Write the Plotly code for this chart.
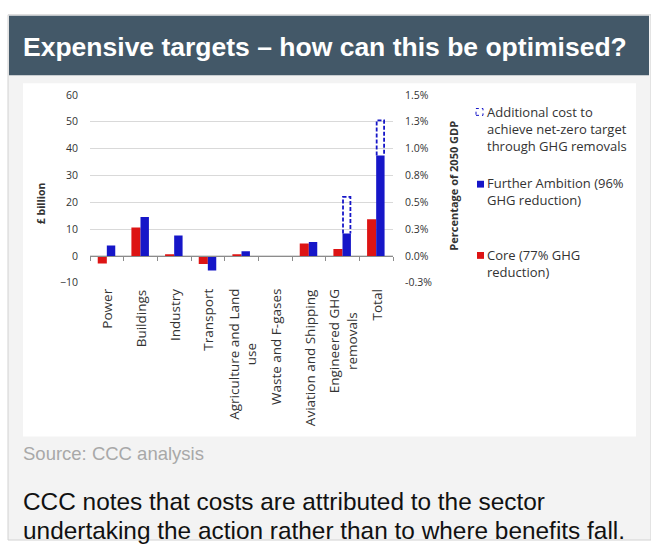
import plotly.graph_objects as go

# ---------------- data ----------------
categories = ["Power", "Buildings", "Industry", "Transport",
              "Agriculture and Land<br>use", "Waste and F-gases",
              "Aviation and Shipping", "Engineered GHG<br>removals", "Total"]
core_77 = [-2.8, 10.6, 0.3, -3.0, 0.5, 0.0, 4.6, 2.6, 13.7]
further_96 = [3.9, 14.5, 7.6, -5.4, 1.7, 0.0, 5.2, 8.4, 37.4]
net_zero_top = [None, None, None, None, None, None, None, 22.0, 50.5]

left_ticks = [-10, 0, 10, 20, 30, 40, 50, 60]
right_tickvals = [-0.25, 0.0, 0.25, 0.5, 0.75, 1.0, 1.25, 1.5]
right_ticktext = ["-0.3%", "0.0%", "0.3%", "0.5%", "0.8%", "1.0%", "1.3%", "1.5%"]
gdp_pct_per_bn = 1.5 / 60

legend_lines = [["Additional cost to", "achieve net-zero target", "through GHG removals"],
                ["Further Ambition (96%", "GHG reduction)"],
                ["Core (77% GHG", "reduction)"]]

title = "Expensive targets – how can this be optimised?"
source = "Source: CCC analysis"
body_lines = ["CCC notes that costs are attributed to the sector",
              "undertaking the action rather than to where benefits fall."]

# ---------------- styling ----------------
W, H = 651, 546
RED = "#dd1414"
BLUE = "#1616c8"
TXT = "#333333"
FONT = "Open Sans"
HFONT = "Liberation Sans, Arial"


def fx(px):
    return px / W


def fy(py):
    return 1 - py / H


y_range = [-10.2, 60.2]
zero_px = 255.0
unit_px = 2.75
y_top_px = zero_px - y_range[1] * unit_px
y_bot_px = zero_px - y_range[0] * unit_px

idx = list(range(len(categories)))

fig = go.Figure()
fig.add_trace(go.Bar(x=idx, y=core_77, offset=-0.27, width=0.27,
                     marker=dict(color=RED, line=dict(width=0)),
                     name="Core (77% GHG reduction)"))
fig.add_trace(go.Bar(x=idx, y=further_96, offset=0.0, width=0.25,
                     marker=dict(color=BLUE, line=dict(width=0)),
                     name="Further Ambition (96% GHG reduction)"))

# dashed boxes for the additional cost on top of the blue bars
for i, (b, t) in enumerate(zip(further_96, net_zero_top)):
    if t is None:
        continue
    fig.add_trace(go.Scatter(x=[i + 0.015, i + 0.015, i + 0.235, i + 0.235],
                             y=[b, t, t, b], mode="lines",
                             line=dict(color=BLUE, width=1.8, dash="4px,2px"),
                             hoverinfo="skip", showlegend=False))

# secondary (right) axis trace, invisible, to activate yaxis2
fig.add_trace(go.Scatter(x=[0], y=[0], yaxis="y2", mode="markers",
                         marker=dict(opacity=0), showlegend=False, hoverinfo="skip"))

shapes = []
shapes.append(dict(type="rect", xref="paper", yref="paper", x0=fx(8), x1=fx(651), y0=fy(546), y1=fy(8),
                    fillcolor="#f3f3f3", line=dict(color="#d2d2d2", width=1), layer="below"))
shapes.append(dict(type="rect", xref="paper", yref="paper", x0=fx(9), x1=fx(649), y0=fy(70), y1=fy(9),
                    fillcolor="#435868", line=dict(width=0), layer="below"))
shapes.append(dict(type="rect", xref="paper", yref="paper", x0=fx(23), x1=fx(636), y0=fy(440), y1=fy(78),
                    fillcolor="#ffffff", line=dict(width=0), layer="below"))
# legend symbols
shapes.append(dict(type="rect", xref="paper", yref="paper", x0=fx(476), x1=fx(483), y0=fy(111), y1=fy(104),
                    fillcolor="rgba(0,0,0,0)", line=dict(color=BLUE, width=1, dash="dot")))
shapes.append(dict(type="rect", xref="paper", yref="paper", x0=fx(477), x1=fx(484), y0=fy(185), y1=fy(178),
                    fillcolor=BLUE, line=dict(width=0)))
shapes.append(dict(type="rect", xref="paper", yref="paper", x0=fx(477), x1=fx(484), y0=fy(258), y1=fy(251),
                    fillcolor=RED, line=dict(width=0)))

annotations = []
annotations.append(dict(xref="paper", yref="paper", x=fx(22), y=fy(40.5), xanchor="left", yanchor="middle",
                        text="<b>" + title + "</b>", showarrow=False, borderpad=0,
                        font=dict(family=HFONT, size=26.5, color="#ffffff")))
annotations.append(dict(xref="paper", yref="paper", x=fx(22), y=fy(457), xanchor="left", yanchor="middle",
                        text=source, showarrow=False, borderpad=0,
                        font=dict(family=HFONT, size=18.5, color="#a8a8a8")))
for k, line in enumerate(body_lines):
    annotations.append(dict(xref="paper", yref="paper", x=fx(22), y=fy(507 + 29 * k), xanchor="left",
                            yanchor="middle", text=line, showarrow=False, borderpad=0,
                            font=dict(family=HFONT, size=24.4, color="#111111")))

# category labels (rotated)
for i, c in enumerate(categories):
    annotations.append(dict(xref="x", yref="paper", x=i + 0.02, y=fy(288), xanchor="center", yanchor="top",
                            text=c, textangle=-90, align="center", showarrow=False, borderpad=0,
                            font=dict(family=FONT, size=13.5, color=TXT)))

# axis titles
annotations.append(dict(xref="paper", yref="paper", x=fx(41), y=fy(201), xanchor="center", yanchor="middle",
                        text="<b>£ billion</b>", textangle=-90, showarrow=False, borderpad=0,
                        font=dict(family=FONT, size=10.5, color=TXT)))
annotations.append(dict(xref="paper", yref="paper", x=fx(454), y=fy(183), xanchor="center", yanchor="middle",
                        text="<b>Percentage of 2050 GDP</b>", textangle=-90, showarrow=False, borderpad=0,
                        font=dict(family=FONT, size=11, color=TXT)))

# legend texts (one block per entry)
LEG_SIZE = 13
line_h = 1.3 * LEG_SIZE
legend_first = [108, 181, 254]
for lines, y0 in zip(legend_lines, legend_first):
    center = y0 + (len(lines) - 1) * line_h / 2
    annotations.append(dict(xref="paper", yref="paper", x=fx(486), y=fy(center), xanchor="left",
                            yanchor="middle", text="<br>".join(lines), align="left",
                            showarrow=False, borderpad=0,
                            font=dict(family=FONT, size=LEG_SIZE, color=TXT)))

fig.update_layout(
    width=W, height=H,
    margin=dict(l=0, r=0, t=0, b=0),
    paper_bgcolor="#ffffff",
    plot_bgcolor="rgba(0,0,0,0)",
    barmode="overlay",
    showlegend=False,
    shapes=shapes,
    annotations=annotations,
    xaxis=dict(domain=[fx(90), fx(393)], range=[-0.5, 8.5],
               anchor="free", position=fy(zero_px),
               showline=True, linecolor="#8c8c8c", linewidth=1,
               ticks="outside", ticklen=4, tickcolor="#8c8c8c", tickwidth=1,
               tickvals=[i - 0.5 for i in idx] + [len(idx) - 0.5],
               showticklabels=False, showgrid=False, zeroline=False, fixedrange=True),
    yaxis=dict(domain=[fy(y_bot_px), fy(y_top_px)], range=y_range,
               tickvals=left_ticks, showgrid=True, gridcolor="#d9d9d9", gridwidth=1,
               zeroline=False, showline=False, ticklabelstandoff=11,
               tickfont=dict(family=FONT, size=10.5, color=TXT)),
    yaxis2=dict(overlaying="y", side="right", anchor="x",
                range=[v * gdp_pct_per_bn for v in y_range],
                tickvals=right_tickvals, ticktext=right_ticktext,
                showgrid=False, zeroline=False, showline=False, ticklabelstandoff=11,
                tickfont=dict(family=FONT, size=10.5, color=TXT)),
)

fig.write_html("out.html")
